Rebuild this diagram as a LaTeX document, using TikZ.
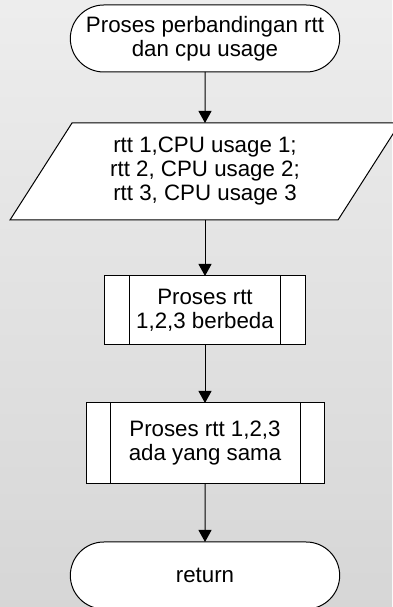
\documentclass[tikz,border=0pt]{standalone}
\usepackage{fontspec}
\setmainfont{Liberation Sans}
\usepackage{tikz}
\usetikzlibrary{calc,arrows.meta,shapes.misc,backgrounds}
\tikzset{>={Triangle[length=12pt,width=13pt]}}
\tikzset{
  terminal/.style={rounded rectangle,draw,fill=white,line width=1pt,outer sep=0pt,
    minimum width=276pt,minimum height=67pt,align=center},
  subproc/.style={rectangle,draw,fill=white,line width=1pt,outer sep=0pt,align=center},
  inout/.style={rectangle,outer sep=0pt,minimum width=328pt,minimum height=97pt,align=center},
  flow/.style={line width=1pt,->}
}

\begin{document}
\begin{tikzpicture}[x=1pt,y=1pt,font=\fontsize{22.3}{24}\selectfont]
    \clip (0,0) rectangle (392,607);
    \node[terminal] (start) at (205,568.5) {Proses perbandingan rtt\\dan cpu usage};
    \node[inout] (data) at (205,435.5) {rtt 1,CPU usage 1;\\rtt 2, CPU usage 2;\\rtt 3, CPU usage 3};
    \node[subproc,minimum width=201pt,minimum height=69pt] (beda) at (205,296.5) {Proses rtt\\1,2,3 berbeda};
    \node[subproc,minimum width=238pt,minimum height=81pt] (sama) at (205,163.5) {Proses rtt 1,2,3\\ada yang sama};
    \node[terminal] (ret) at (205,31.5) {return};
    % side bars of the sub-process boxes
    \foreach \n/\d in {beda/25,sama/24}{
      \draw[line width=1pt] ([xshift=\d pt]\n.north west)--([xshift=\d pt]\n.south west);
      \draw[line width=1pt] ([xshift=-\d pt]\n.north east)--([xshift=-\d pt]\n.south east);
    }
    \draw[flow] (start)--(data);
    \draw[flow] (data)--(beda);
    \draw[flow] (beda)--(sama);
    \draw[flow] (sama)--(ret);
    \begin{scope}[on background layer]
      \shade[top color=white!93!black,bottom color=white!84!black] (0,0) rectangle (392,607);
      \filldraw[fill=white,line width=1pt] ([xshift=-31pt]data.south west)--([xshift=-31pt]data.south east)
        --([xshift=31pt]data.north east)--([xshift=31pt]data.north west)--cycle;
    \end{scope}
\end{tikzpicture}
\end{document}
